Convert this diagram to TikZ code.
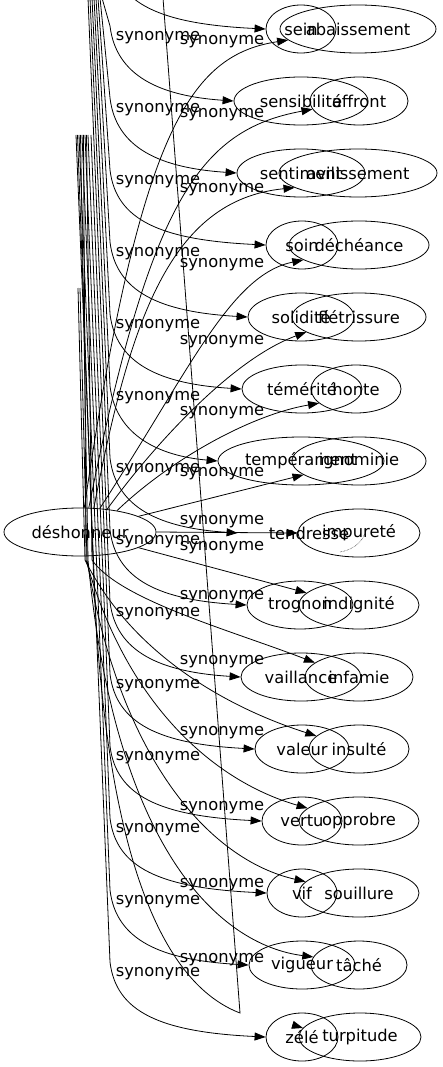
\documentclass[tikz,border=0pt]{standalone}
\usepackage{fontspec}
\setmainfont{DejaVu Sans}
\usetikzlibrary{shapes.geometric,arrows.meta,calc}

\tikzset{
  mot/.style={ellipse,draw,inner sep=0pt,minimum height=48pt,font=\fontsize{16.3}{19}\selectfont},
  lab/.style={inner sep=0pt,font=\fontsize{16.3}{19}\selectfont},
  arr/.style={-{Triangle[length=11pt,width=8pt]}}
}

\begin{document}
\begin{tikzpicture}[x=1pt,y=-1pt,line width=0.8pt]
\useasboundingbox (0,0) rectangle (443,1067);
\clip (0,0) rectangle (443,1067);

% source
\node[mot,minimum width=152pt] (desh) at (80,532) {déshonneur};

% first column
\node[mot,minimum width=70pt] (sein) at (301,29) {sein};
\node[mot,minimum width=134pt] (sensibilite) at (301,101) {sensibilité};
\node[mot,minimum width=128pt] (sentiment) at (301,173) {sentiment};
\node[mot,minimum width=72pt] (soin) at (302,245) {soin};
\node[mot,minimum width=106pt] (solidite) at (301,317) {solidité};
\node[mot,minimum width=120pt] (temerite) at (302,389) {témérité};
\node[mot,minimum width=166pt] (temperament) at (301,461) {tempérament};
\node[mot,draw=none,minimum width=142pt] (tendresse) at (309,533) {tendresse};
\node[mot,minimum width=106pt] (trognon) at (300,605) {trognon};
\node[mot,minimum width=120pt] (vaillance) at (301,677) {vaillance};
\node[mot,minimum width=94pt] (valeur) at (302,749) {valeur};
\node[mot,minimum width=80pt] (vertu) at (302,821) {vertu};
\node[mot,minimum width=70pt] (vif) at (302,893) {vif};
\node[mot,minimum width=106pt] (vigueur) at (302,965) {vigueur};
\node[mot,minimum width=72pt] (zele) at (302,1037) {zélé};

% second column
\node[mot,minimum width=156pt] (abaissement) at (358,29) {abaissement};
\node[mot,minimum width=98pt] (affront) at (359,101) {affront};
\node[mot,minimum width=158pt] (avilissement) at (358,173) {avilissement};
\node[mot,minimum width=140pt] (decheance) at (359,245) {déchéance};
\node[mot,minimum width=134pt] (fletrissure) at (359,317) {flétrissure};
\node[mot,minimum width=90pt] (honte) at (356,389) {honte};
\node[mot,minimum width=134pt] (ignominie) at (359,461) {ignominie};
\node[mot,minimum width=122pt] (impurete) at (359,533) {impureté};
\node[mot,minimum width=120pt] (indignite) at (359,605) {indignité};
\node[mot,minimum width=108pt] (infamie) at (359,677) {infamie};
\node[mot,minimum width=100pt] (insulte) at (359,749) {insulté};
\node[mot,minimum width=120pt] (opprobre) at (359,821) {opprobre};
\node[mot,minimum width=120pt] (souillure) at (359,893) {souillure};
\node[mot,minimum width=96pt] (tache) at (359,965) {tâché};
\node[mot,minimum width=122pt] (turpitude) at (360,1037) {turpitude};

% what is left of the tendresse ellipse
\draw[line width=0.5pt,densely dotted] (340,552) .. controls (352,550) and (362,543) .. (365,533);

% first column edges, coming down from above
\coordinate (a1) at (104,-2);
\coordinate (a2) at (102,-2);
\coordinate (a3) at (100,-2);
\coordinate (a4) at (98,-2);
\coordinate (a5) at (96,-2);
\coordinate (a6) at (94,-2);
\coordinate (a7) at (92,-2);
\coordinate (a8) at (90,-2);
\coordinate (a9) at (88,-2);
\coordinate (a10) at (91,135);
\coordinate (a11) at (88,135);
\coordinate (a12) at (85,135);
\coordinate (a13) at (82,135);
\coordinate (a14) at (79,135);
\coordinate (a15) at (76,135);
\draw[arr] (a1) -- (110,-46) .. controls (116,4) and (160,24) .. (sein.west);
\draw[arr] (a2) -- (110,26) .. controls (116,76) and (160,96) .. (sensibilite.west);
\draw[arr] (a3) -- (110,98) .. controls (116,148) and (160,168) .. (sentiment.west);
\draw[arr] (a4) -- (110,170) .. controls (116,220) and (160,240) .. (soin.west);
\draw[arr] (a5) -- (110,242) .. controls (116,292) and (160,312) .. (solidite.west);
\draw[arr] (a6) -- (110,314) .. controls (116,364) and (160,384) .. (temerite.west);
\draw[arr] (a7) -- (110,386) .. controls (116,436) and (160,456) .. (temperament.west);
\draw[arr] (a8) -- (110,458) .. controls (116,508) and (160,528) .. (tendresse.west);
\draw[arr] (a9) -- (110,530) .. controls (116,580) and (160,600) .. (trognon.west);
\draw[arr] (a10) -- (110,602) .. controls (116,652) and (160,672) .. (vaillance.west);
\draw[arr] (a11) -- (110,674) .. controls (116,724) and (160,744) .. (valeur.west);
\draw[arr] (a12) -- (110,746) .. controls (116,796) and (160,816) .. (vertu.west);
\draw[arr] (a13) -- (110,818) .. controls (116,868) and (160,888) .. (vif.west);
\draw[arr] (a14) -- (110,890) .. controls (116,940) and (160,960) .. (vigueur.west);
\draw[arr] (a15) -- (110,962) .. controls (116,1012) and (160,1032) .. (zele.west);

% second column edges, going up
\draw[arr] (desh.80) .. controls (140,130) and (190,55) .. (abaissement.189);
\draw[arr] (desh.70) .. controls (150,200) and (200,130) .. (affront.190);
\draw[arr] (desh.60) .. controls (130,320) and (170,200) .. (avilissement.193);
\draw[arr] (desh.50) .. controls (190,370) and (230,275) .. (decheance.195);
\draw[arr] (desh.40) .. controls (150,450) and (230,360) .. (fletrissure.196);
\draw[arr] (desh.30) .. controls (170,460) and (250,415) .. (honte.201);
\draw[arr] (desh.15) -- (ignominie.194);
\draw[arr] (desh.east) -- (impurete.west);
\draw[arr] (desh.-15) -- (indignite.167);

% second column edges, going down
\coordinate (b1) at (86.5,135);
\coordinate (b2) at (78,288);
\coordinate (b3) at (83.5,135);
\coordinate (b4) at (80,288);
\coordinate (b5) at (80.5,135);
\coordinate (b6) at (77.5,135);
\coordinate (b7) at (240,1013);
\coordinate (b8) at (163,-2);
\draw[arr] (b1) -- (92,560) .. controls (120,600) and (230,630) .. (infamie.162);
\draw[arr] (b2) -- (85,560) .. controls (130,650) and (220,705) .. (insulte.163);
\draw[arr] (b3) -- (86,560) .. controls (125,700) and (210,780) .. (opprobre.166);
\draw[arr] (b4) -- (87,560) .. controls (120,760) and (210,860) .. (souillure.168);
\draw[arr] (b5) -- (88,560) .. controls (115,850) and (220,945) .. (tache.170);
\draw (b6) -- (93,560) .. controls (105,900) and (180,990) .. (b7) -- (b8);
\draw[arr] ($(turpitude.171)+(-10,-3)$) -- (turpitude.171);

% labels
\foreach \y [count=\i] in {38,110,...,974}
  \node[lab] (ls\i) at (158,\y) {synonyme};
\foreach \y [count=\i] in {42,115,190,265,342,413,474,522,548,597,662,733,808,885,960}
  \node[lab] (rs\i) at (222,\y) {synonyme};
\end{tikzpicture}
\end{document}
